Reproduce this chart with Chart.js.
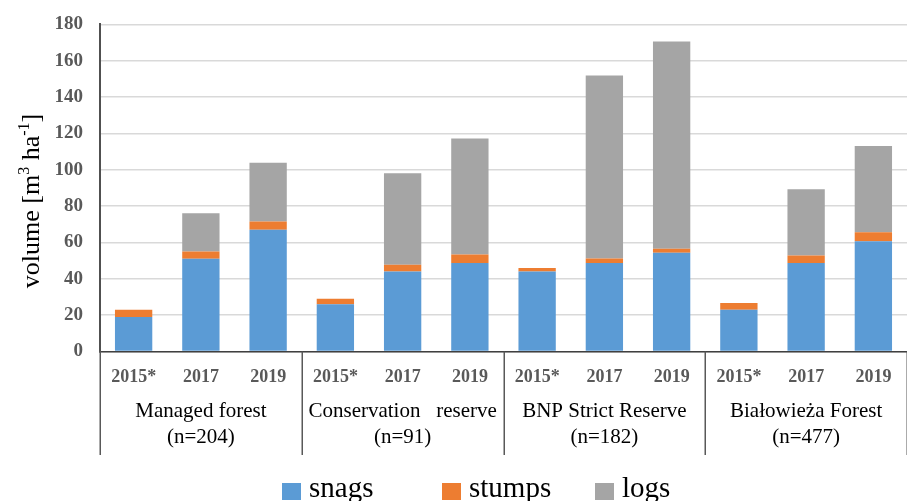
<!DOCTYPE html>
<html><head><meta charset="utf-8">
<script src="https://cdn.jsdelivr.net/npm/chart.js@4"></script>
<style>html,body{margin:0;padding:0;background:#fff;}canvas{display:block;}</style>
</head><body>
<canvas id="c" width="907" height="501"></canvas>
<script>
// ---- data ----
const years = ["2015*","2017","2019","2015*","2017","2019","2015*","2017","2019","2015*","2017","2019"];
const groupNames = ["Managed forest","Conservation   reserve","BNP Strict Reserve","Białowieża Forest"];
const groupN = ["(n=204)","(n=91)","(n=182)","(n=477)"];
const snags  = [19, 51, 67,   26, 44, 48.7,   44, 48.7, 54.3,   23, 48.7, 60.7];
const stumps = [4, 4, 4.5,    3, 3.7, 4.6,    2, 2.4, 2.2,      3.7, 4.1, 4.9];
const logs   = [null, 21, 32.3,  null, 50.3, 63.9,  null, 100.7, 114,  null, 36.4, 47.5];
const yTickValues = [0,20,40,60,80,100,120,140,160,180];
const seriesNames = ["snags","stumps","logs"];
const seriesColors = ["#5B9BD5","#ED7D31","#A5A5A5"];

const SERIF = "'Liberation Serif', 'Times New Roman', serif";

const decor = {
  id: 'decor',
  afterDraw(chart) {
    const ctx = chart.ctx;
    const xs = chart.scales.x;
    const ca = chart.chartArea;
    ctx.save();
    // group separators
    const bounds = [ca.left];
    for (let g = 1; g < 4; g++) {
      bounds.push((xs.getPixelForValue(g*3-1) + xs.getPixelForValue(g*3)) / 2);
    }
    bounds.push(ca.right);
    ctx.strokeStyle = '#595959';
    ctx.lineWidth = 1.5;
    bounds.forEach(b => {
      ctx.beginPath();
      ctx.moveTo(Math.round(b)+0.25, ca.bottom);
      ctx.lineTo(Math.round(b)+0.25, 455);
      ctx.stroke();
    });
    // group labels
    ctx.fillStyle = '#000';
    ctx.font = "21px " + SERIF;
    ctx.textAlign = 'center';
    ctx.textBaseline = 'middle';
    for (let g = 0; g < 4; g++) {
      const cx = xs.getPixelForValue(g*3+1);
      ctx.fillText(groupNames[g], cx, 411);
      ctx.fillText(groupN[g], cx, 437);
    }
    // y axis title with superscripts
    ctx.save();
    ctx.translate(30, 201);
    ctx.rotate(-Math.PI/2);
    const parts = [["volume [m",false],["3",true],[" ha",false],["-1",true],["]",false]];
    const big = "26px " + SERIF, small = "16px " + SERIF;
    let w = 0;
    parts.forEach(p => { ctx.font = p[1]?small:big; w += ctx.measureText(p[0]).width; });
    let x = -w/2;
    ctx.textAlign = 'left';
    ctx.textBaseline = 'alphabetic';
    parts.forEach(p => {
      ctx.font = p[1]?small:big;
      ctx.fillText(p[0], x, p[1] ? -1 : 9);
      x += ctx.measureText(p[0]).width;
    });
    ctx.restore();
    // legend
    const slots = [282, 442, 595];
    ctx.font = "29px " + SERIF;
    ctx.textAlign = 'left';
    ctx.textBaseline = 'alphabetic';
    chart.data.datasets.forEach((ds, i) => {
      ctx.fillStyle = ds.backgroundColor;
      ctx.fillRect(slots[i], 483, 19, 17);
      ctx.fillStyle = '#000';
      ctx.fillText(ds.label, slots[i] + 27, 497);
    });
    ctx.restore();
  }
};

new Chart(document.getElementById('c'), {
  type: 'bar',
  data: {
    labels: years,
    datasets: [
      { label: seriesNames[0], data: snags,  backgroundColor: seriesColors[0] },
      { label: seriesNames[1], data: stumps, backgroundColor: seriesColors[1] },
      { label: seriesNames[2], data: logs,   backgroundColor: seriesColors[2] }
    ]
  },
  options: {
    responsive: false,
    animation: false,
    devicePixelRatio: 1,
    layout: { padding: { top: 24.3, left: 0, right: 0, bottom: 0 } },
    datasets: { bar: { barPercentage: 0.555, categoryPercentage: 1 } },
    plugins: { legend: { display: false }, tooltip: { enabled: false } },
    scales: {
      x: {
        stacked: true,
        grid: { display: false, drawTicks: false },
        border: { display: true, color: '#404040', width: 1.5 },
        ticks: { padding: 15, color: '#595959', font: { family: SERIF, size: 18, weight: 'bold' }, maxRotation: 0, autoSkip: false },
        afterFit(s) { s.height = 149.5; s.paddingLeft = 0; s.paddingRight = 0; }
      },
      y: {
        stacked: true,
        min: 0, max: 180,
        afterBuildTicks(s) { s.ticks = yTickValues.map(v => ({ value: v })); },
        grid: { color: '#D9D9D9', lineWidth: 1.5, drawTicks: false },
        border: { display: true, color: '#505050', width: 2 },
        ticks: { padding: 17, color: '#595959', font: { family: SERIF, size: 19, weight: 'bold' } },
        afterFit(s) { s.width = 100; s.paddingTop = 0; s.paddingBottom = 0; }
      }
    }
  },
  plugins: [decor]
});
</script>
</body></html>
